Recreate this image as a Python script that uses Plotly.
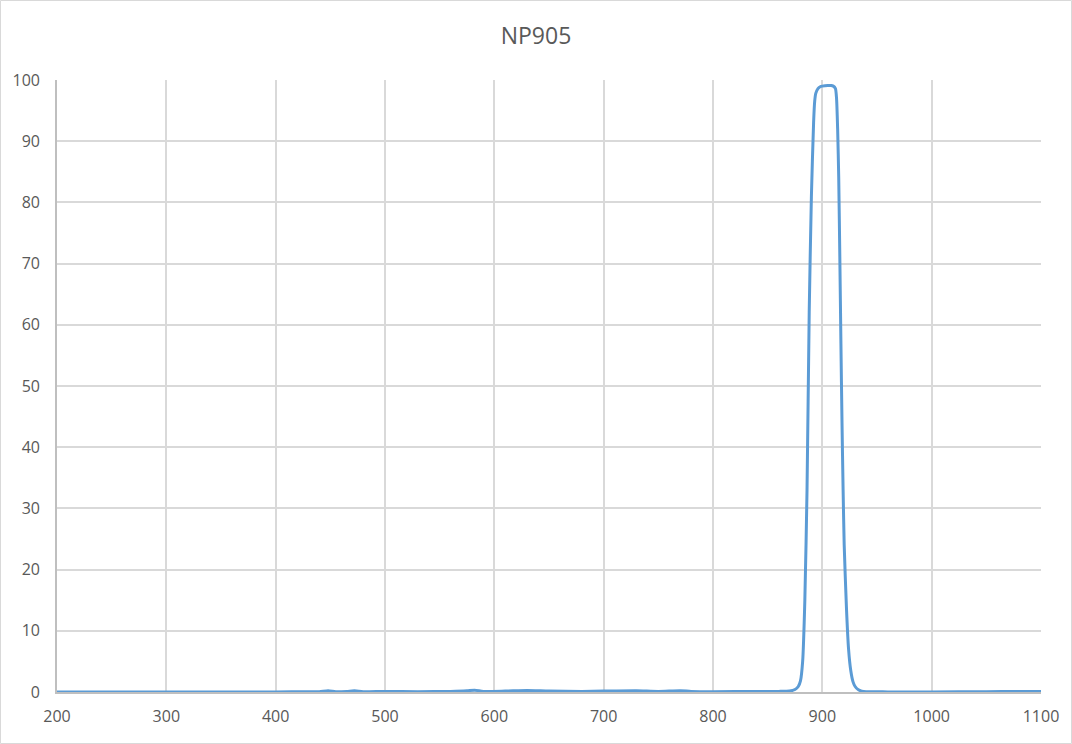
import plotly.graph_objects as go

wavelength = [200, 250, 300, 350, 400, 430, 440, 448, 455, 465, 472, 480, 500, 530, 560, 575, 582, 590, 610, 630, 650, 680, 700, 730, 750, 770, 780, 800, 840, 860,
              870, 875, 878, 880, 882, 884, 886, 888, 890, 892, 893, 894, 896, 898, 900, 905, 908, 910, 912, 913, 914, 915, 916, 917, 918, 919, 920, 922, 924, 926, 928, 930, 933, 936, 940,
              960, 1000, 1050, 1080, 1100]
transmission = [0.0, 0.0, 0.0, 0.0, 0.0, 0.05, 0.05, 0.2, 0.05, 0.1, 0.2, 0.05, 0.1, 0.05, 0.1, 0.2, 0.3, 0.1, 0.15, 0.25, 0.15, 0.1, 0.15, 0.2, 0.1, 0.2, 0.1, 0.05, 0.1, 0.1,
                0.15, 0.4, 0.9, 1.8, 5, 15, 33, 62, 81, 93, 96.5, 97.8, 98.6, 98.9, 99.0, 99.1, 99.1, 99.0, 98.6, 97.0, 92, 84, 71, 57, 44, 33, 24, 14, 7, 3.5, 1.7, 0.9, 0.35, 0.15, 0.05,
                0.02, 0.0, 0.05, 0.1, 0.1]

x_ticks = [200, 300, 400, 500, 600, 700, 800, 900, 1000, 1100]
y_ticks = [0, 10, 20, 30, 40, 50, 60, 70, 80, 90, 100]

fig = go.Figure()
fig.add_trace(go.Scatter(x=wavelength, y=transmission, mode="lines",
                         line=dict(color="#5B9BD5", width=3, shape="spline", smoothing=0.6),
                         showlegend=False, hoverinfo="x+y"))

font_family = "Open Sans, Liberation Sans, sans-serif"

fig.update_layout(
    width=1072, height=744,
    margin=dict(l=57, r=31, t=80, b=52),
    paper_bgcolor="white", plot_bgcolor="white",
    title=dict(text="NP905", x=0.5, xanchor="center", y=1 - 36 / 744, yanchor="middle",
               font=dict(family=font_family, size=23, color="#595959")),
    xaxis=dict(range=[200, 1100], tickvals=x_ticks, ticktext=[str(v) for v in x_ticks],
               showgrid=True, gridcolor="#D9D9D9", gridwidth=1.6, zeroline=False,
               showline=True, linecolor="#BFBFBF", linewidth=1.6, ticks="",
               ticklabelstandoff=9,
               tickfont=dict(family=font_family, size=16, color="#595959")),
    yaxis=dict(range=[0, 100], tickvals=y_ticks, ticktext=[str(v) for v in y_ticks],
               showgrid=True, gridcolor="#D9D9D9", gridwidth=1.6, zeroline=False,
               showline=True, linecolor="#BFBFBF", linewidth=1.6, ticks="",
               ticklabelstandoff=12,
               tickfont=dict(family=font_family, size=16, color="#595959")),
    shapes=[dict(type="rect", xref="paper", yref="paper",
                 x0=(0.5 - 57) / 984, x1=(1071.5 - 57) / 984,
                 y0=-51.5 / 612, y1=691.5 / 612,
                 line=dict(color="#D9D9D9", width=1), fillcolor="rgba(0,0,0,0)", layer="below")],
)

fig.write_html("out.html", config={"displayModeBar": False},
               post_script="document.body.style.margin='0px';")
